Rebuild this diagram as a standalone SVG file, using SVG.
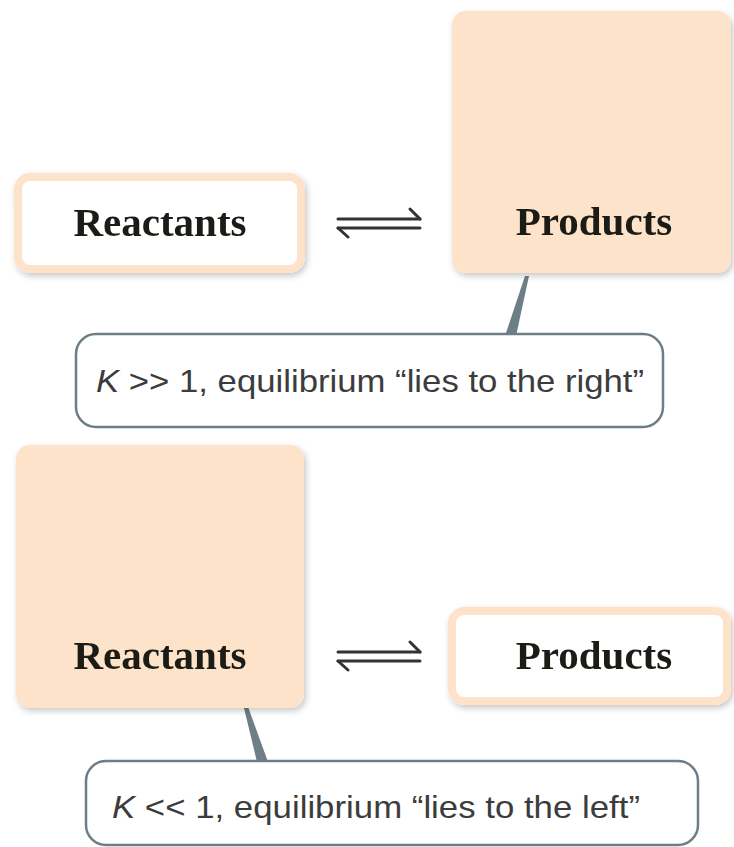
<svg xmlns="http://www.w3.org/2000/svg" width="734" height="847" viewBox="0 0 734 847">
<defs>
<filter id="sh" x="-10%" y="-10%" width="130%" height="130%">
<feDropShadow dx="2" dy="3" stdDeviation="3" flood-color="#000" flood-opacity="0.22"/>
</filter>
</defs>
<style>
.big{fill:#fde3c9;}
.small{fill:#ffffff;stroke:#fde3c9;stroke-width:8;}
.lbl{font-family:"Liberation Serif",serif;font-weight:bold;font-size:41px;fill:#1e1a18;text-anchor:middle;}
.call{fill:#ffffff;stroke:#6e7e87;stroke-width:2.5;}
.ct{font-family:"Liberation Sans",Arial,sans-serif;font-size:32px;fill:#3c3c3c;text-anchor:middle;}
.tail{fill:#6e7e87;}
.arr{stroke:#333;stroke-width:3;fill:none;stroke-linecap:round;}
</style>
<rect width="734" height="847" fill="#ffffff"/>
<g id="connectors">
<g id="arrow-top">
<line class="arr" x1="338" y1="219" x2="420" y2="219"/>
<line class="arr" x1="410" y1="209" x2="420" y2="219"/>
<line class="arr" x1="338" y1="228" x2="420" y2="228"/>
<line class="arr" x1="338" y1="228" x2="348" y2="237"/>
</g>
<g id="arrow-bottom">
<line class="arr" x1="338" y1="652" x2="420" y2="652"/>
<line class="arr" x1="410" y1="642" x2="420" y2="652"/>
<line class="arr" x1="338" y1="661" x2="420" y2="661"/>
<line class="arr" x1="338" y1="661" x2="348" y2="670"/>
</g>
<polygon class="tail" points="525,276 529,276 516,336 505,336"/>
<polygon class="tail" points="243,704 247,704 268,762 257,762"/>
</g>
<g id="reactants-top" filter="url(#sh)">
<rect class="small" x="18" y="177" width="283" height="92" rx="12"/>
<text class="lbl" x="160" y="236">Reactants</text>
</g>
<g id="products-top" filter="url(#sh)">
<rect class="big" x="452" y="11" width="279" height="262" rx="14"/>
<text class="lbl" x="594" y="235">Products</text>
</g>
<g id="callout-top">
<rect class="call" x="76" y="334" width="587" height="93" rx="20"/>
<text class="ct" x="370" y="392" textLength="548" lengthAdjust="spacingAndGlyphs"><tspan font-style="italic">K</tspan> &gt;&gt; 1, equilibrium “lies to the right”</text>
</g>
<g id="reactants-bottom" filter="url(#sh)">
<rect class="big" x="16" y="445" width="288" height="263" rx="14"/>
<text class="lbl" x="160" y="669">Reactants</text>
</g>
<g id="products-bottom" filter="url(#sh)">
<rect class="small" x="452" y="611" width="275" height="90" rx="12"/>
<text class="lbl" x="594" y="669">Products</text>
</g>
<g id="callout-bottom">
<rect class="call" x="86" y="761" width="612" height="84" rx="20"/>
<text class="ct" x="376" y="818" textLength="528" lengthAdjust="spacingAndGlyphs"><tspan font-style="italic">K</tspan> &lt;&lt; 1, equilibrium “lies to the left”</text>
</g>
</svg>
